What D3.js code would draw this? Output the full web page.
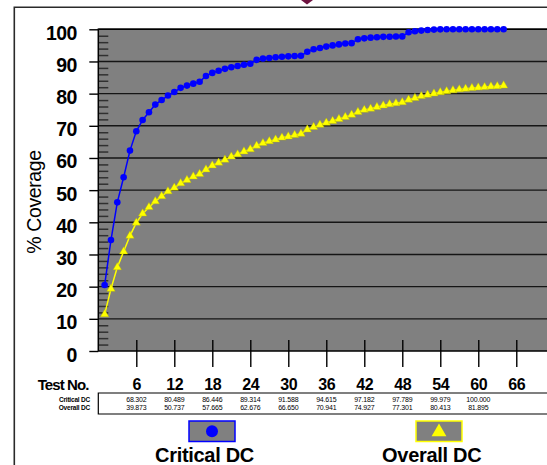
<!DOCTYPE html>
<html>
<head>
<meta charset="utf-8">
<script src="https://cdn.jsdelivr.net/npm/d3@7/dist/d3.min.js"></script>
<style>
  html, body { margin: 0; padding: 0; background: #fff; }
  svg { display: block; font-family: "Liberation Sans", Arial, sans-serif; }
</style>
</head>
<body>
<div id="chart"></div>
<script>
// Coverage vs test number, Critical DC / Overall DC

// % coverage after each test (tests 1..64)
var criticalDC = [
  20.5, 34.5, 46.2, 54.0, 62.3, 68.302, 71.8, 74.2, 76.6, 78.0,
  79.4, 80.489, 81.8, 82.5, 83.1, 83.7, 85.5, 86.446, 87.1, 87.7,
  88.2, 88.6, 89.0, 89.314, 90.5, 90.9, 91.1, 91.3, 91.45, 91.588,
  91.7, 91.8, 93.0, 93.8, 94.2, 94.615, 95.0, 95.3, 95.6, 95.7,
  96.9, 97.182, 97.4, 97.55, 97.65, 97.7, 97.75, 97.789, 99.1, 99.4,
  99.6, 99.8, 99.9, 99.979, 100, 100, 100, 100, 100, 100,
  100, 100, 100, 100
];
var overallDC = [
  11.4, 19.3, 26.0, 30.9, 35.8, 39.873, 42.7, 44.7, 46.5, 48.1,
  49.6, 50.737, 52.1, 53.1, 54.2, 55.0, 56.4, 57.665, 58.5, 59.4,
  60.4, 61.1, 62.0, 62.676, 63.8, 64.6, 65.2, 65.7, 66.3, 66.650,
  67.1, 67.5, 68.8, 69.6, 70.3, 70.941, 71.5, 72.1, 72.7, 73.4,
  74.3, 74.927, 75.3, 75.8, 76.3, 76.7, 77.0, 77.301, 78.1, 78.6,
  79.2, 79.6, 80.0, 80.413, 80.7, 81.0, 81.3, 81.5, 81.7, 81.895,
  82.0, 82.2, 82.3, 82.5
];

// category axis labels + data table
var xTicks = [6, 12, 18, 24, 30, 36, 42, 48, 54, 60, 66];
var tableCritical = ['68.302', '80.489', '86.446', '89.314', '91.588', '94.615', '97.182', '97.789', '99.979', '100.000', ''];
var tableOverall  = ['39.873', '50.737', '57.665', '62.676', '66.650', '70.941', '74.927', '77.301', '80.413', '81.895', ''];
var yTicks = [0, 10, 20, 30, 40, 50, 60, 70, 80, 90, 100];
var yMinor = d3.range(2, 100, 2).filter(function (v) { return v % 10 !== 0; });

var W = 547, H = 465;
var L = 98.3, T = 29.3, B = 351;

var svg = d3.select('#chart').append('svg')
  .attr('width', W).attr('height', H);

var x = d3.scaleLinear().domain([0, 71]).range([L, L + 71 * 6.333]);
var y = d3.scaleLinear().domain([0, 100]).range([B, T]);

// outer chart frame + stray shape peeking in at the top
svg.append('path')
  .attr('d', 'M14.3,' + H + 'V7.3H' + W)
  .attr('fill', 'none').attr('stroke', '#2a2a2a').attr('stroke-width', 1.6);
svg.append('polygon')
  .attr('points', '301,0 313,0 307,4.5')
  .attr('fill', '#6e1340');

// plot area
svg.append('rect')
  .attr('x', L).attr('y', T).attr('width', W - L).attr('height', B - T)
  .attr('fill', '#808080');

// gridlines
svg.append('g').selectAll('line')
  .data(yTicks.filter(function (v) { return v > 0; }))
  .join('line')
  .attr('x1', L).attr('x2', W)
  .attr('y1', function (d) { return y(d); })
  .attr('y2', function (d) { return y(d); })
  .attr('stroke', '#151515').attr('stroke-width', 1.4);

// minor ticks inside the plot
var minorAxis = svg.append('g')
  .attr('transform', 'translate(' + L + ',0)')
  .call(d3.axisRight(y).tickValues(yMinor).tickSize(10).tickFormat(''));
minorAxis.select('.domain').remove();
minorAxis.selectAll('line').attr('stroke', '#303030').attr('stroke-width', 1.5);

// y axis
var yAxis = svg.append('g')
  .attr('transform', 'translate(' + L + ',0)')
  .call(d3.axisLeft(y).tickValues(yTicks).tickSize(9).tickPadding(12.6));
yAxis.select('.domain').remove();
yAxis.selectAll('line').attr('stroke', '#000').attr('stroke-width', 1.4);
yAxis.selectAll('text')
  .attr('dy', 10).attr('fill', '#000')
  .style('font-size', '19.5px').style('font-weight', 'bold')
  .style('letter-spacing', '-0.6px');

// x axis ticks and labels
var xAxis = svg.append('g')
  .attr('transform', 'translate(0,340)')
  .call(d3.axisBottom(x).tickValues(xTicks).tickSize(27).tickPadding(11.5));
xAxis.select('.domain').remove();
xAxis.selectAll('line').attr('stroke', '#000').attr('stroke-width', 1.4);
xAxis.selectAll('text')
  .attr('fill', '#000')
  .style('font-size', '16px').style('font-weight', 'bold')
  .style('letter-spacing', '-0.3px');

// axis lines
svg.append('path')
  .attr('d', 'M' + W + ',' + T + 'H' + L + 'V' + B + 'H' + W)
  .attr('fill', 'none').attr('stroke', '#000').attr('stroke-width', 1.5);

svg.append('text')
  .attr('transform', 'translate(41,202) rotate(-90)')
  .attr('text-anchor', 'middle')
  .style('font-size', '19.5px')
  .style('letter-spacing', '-0.4px')
  .text('% Coverage');

svg.append('text')
  .attr('x', 88.5).attr('y', 389.8)
  .attr('text-anchor', 'end')
  .style('font-size', '15px').style('font-weight', 'bold')
  .style('letter-spacing', '-0.9px')
  .text('Test No.');

// series
var line = function (vals) {
  return d3.line()
    .x(function (d, i) { return x(i + 1); })
    .y(function (d) { return y(d); })(vals);
};

svg.append('path').attr('d', line(criticalDC))
  .attr('fill', 'none').attr('stroke', '#0000ff').attr('stroke-width', 1.5);
svg.append('g').selectAll('circle')
  .data(criticalDC).join('circle')
  .attr('cx', function (d, i) { return x(i + 1); })
  .attr('cy', function (d) { return y(d); })
  .attr('r', 3.3).attr('fill', '#0000ff');

svg.append('path').attr('d', line(overallDC))
  .attr('fill', 'none').attr('stroke', '#ffff00').attr('stroke-width', 1.5);
var tri = d3.symbol().type(d3.symbolTriangle).size(30);
svg.append('g').selectAll('path')
  .data(overallDC).join('path')
  .attr('d', tri)
  .attr('transform', function (d, i) { return 'translate(' + x(i + 1) + ',' + y(d) + ')'; })
  .attr('fill', '#ffff00').attr('stroke', '#b8b800').attr('stroke-width', 0.4);

// data table
svg.append('path')
  .attr('d', 'M' + W + ',393H' + L + 'V414H' + W)
  .attr('fill', 'none').attr('stroke', '#000').attr('stroke-width', 1.2);

var rows = [
  { name: 'Critical DC', vals: tableCritical, yy: 401.5 },
  { name: 'Overall DC', vals: tableOverall, yy: 409.7 }
];
rows.forEach(function (r) {
  svg.append('text')
    .attr('x', 90).attr('y', r.yy)
    .attr('text-anchor', 'end')
    .style('font-size', '6.5px').style('font-weight', 'bold')
    .style('letter-spacing', '-0.2px')
    .text(r.name);
  svg.append('g').selectAll('text')
    .data(r.vals).join('text')
    .attr('x', function (d, i) { return x(xTicks[i]); })
    .attr('y', r.yy)
    .attr('text-anchor', 'middle')
    .style('font-size', '7px')
    .style('letter-spacing', '-0.2px')
    .text(function (d) { return d; });
});

// legend
var legend = [
  { label: 'Critical DC', color: '#0000ff', kind: 'circle', bx: 189, tx: 204.5 },
  { label: 'Overall DC', color: '#ffff00', kind: 'triangle', bx: 416, tx: 431.7 }
];
legend.forEach(function (g) {
  svg.append('rect')
    .attr('x', g.bx).attr('y', 421).attr('width', 46).attr('height', 20.5)
    .attr('fill', '#808080').attr('stroke', g.color).attr('stroke-width', 1.5);
  if (g.kind === 'circle') {
    svg.append('circle')
      .attr('cx', g.bx + 23).attr('cy', 431.2).attr('r', 6)
      .attr('fill', g.color);
  } else {
    svg.append('path')
      .attr('d', d3.symbol().type(d3.symbolTriangle).size(95))
      .attr('transform', 'translate(' + (g.bx + 23) + ',432)')
      .attr('fill', g.color);
  }
  svg.append('text')
    .attr('x', g.tx).attr('y', 461.5)
    .attr('text-anchor', 'middle')
    .style('font-size', '20px').style('font-weight', 'bold')
    .style('letter-spacing', '-0.3px')
    .text(g.label);
});
</script>
</body>
</html>
